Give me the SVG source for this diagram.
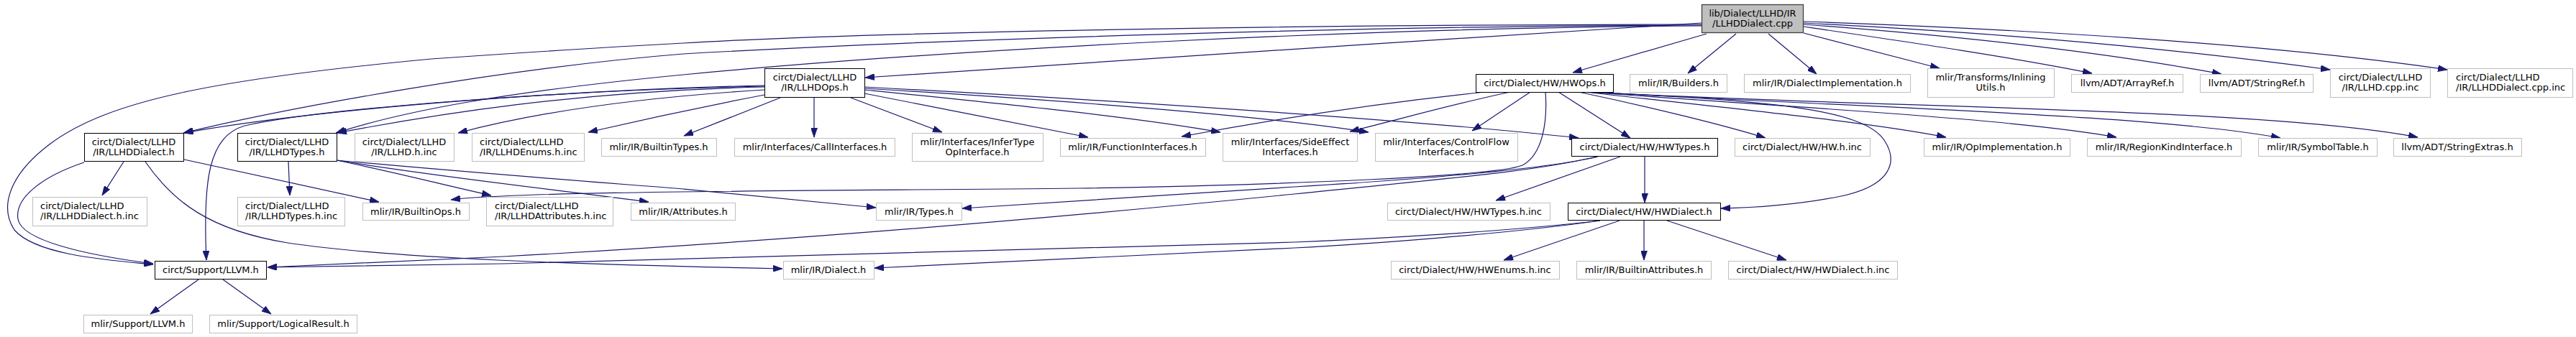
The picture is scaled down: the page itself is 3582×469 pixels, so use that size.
<svg xmlns="http://www.w3.org/2000/svg" width="3582" height="469" viewBox="0 0 3582 469">
<style>
.bg{fill:#ffffff}
.node rect{fill:#ffffff;stroke:#bfbfbf;stroke-width:1}
.node.doc rect{stroke:#000000}
.node.root rect{fill:#bfbfbf;stroke:#404040;stroke-width:1.3}
.node text{font-family:"DejaVu Sans","Liberation Sans",sans-serif;font-size:13px;fill:#000000;text-anchor:middle}
.node text.l{text-anchor:start}
#edges path{fill:none;stroke:#191970;stroke-width:1.2;marker-end:url(#arr)}
</style>
<defs>
<marker id="arr" viewBox="0 0 13 9" refX="13" refY="4.5" markerWidth="13" markerHeight="9" markerUnits="userSpaceOnUse" orient="auto">
<path d="M0,0 L13,4.5 L0,9 z" fill="#191970" stroke="#191970" stroke-width="0.8"/>
</marker>
</defs>
<rect class="bg" x="0" y="0" width="3582" height="469"/>
<g id="edges">
<!-- top node -->
<path d="M2373,47 L2187,101"/>
<path d="M2414,47 L2347,102"/>
<path d="M2459,47 L2526,103"/>
<path d="M2508,46 L2697,95"/>
<path d="M2508,37 C2650,58 2800,80 2909,102"/>
<path d="M2508,34 C2700,48 2900,68 3089,103"/>
<path d="M2508,32 C2700,42 2950,58 3240,97"/>
<path d="M2508,30 C2800,40 3150,60 3403,97"/>
<path d="M2366,32 C2000,56 1500,86 1203,108"/>
<path d="M2366,36 C1900,38 1300,70 950,104 C700,128 560,155 467,185"/>
<path d="M2366,35 C1900,36 1300,55 950,75 C700,95 400,150 255,185"/>
<path d="M2366,34 C1800,34 1200,45 950,60 C800,68 700,75 600,82 C300,110 150,140 70,200 C10,245 0,290 20,320 C50,355 150,362 213,368"/>
<!-- LLHDOps -->
<path d="M1063,119 C800,125 450,150 256,185"/>
<path d="M1063,121 C800,127 600,160 469,185"/>
<path d="M1063,120 C800,125 450,150 340,175 C290,190 282,250 287,362"/>
<path d="M1063,125 C900,135 750,155 637,185"/>
<path d="M1063,132 C980,148 900,165 818,184"/>
<path d="M1085,136 L951,189"/>
<path d="M1132,136 L1132,191"/>
<path d="M1183,136 L1310,184"/>
<path d="M1202,130 C1300,150 1420,172 1513,191"/>
<path d="M1202,125 C1400,145 1580,163 1697,184"/>
<path d="M1202,123 C1450,138 1750,160 1903,184"/>
<path d="M1202,121 C1500,137 1950,165 2195,192"/>
<!-- HWOps -->
<path d="M2065,128 C1900,145 1750,170 1643,190"/>
<path d="M2100,128 C2020,145 1950,165 1877,183"/>
<path d="M2128,128 L2047,182"/>
<path d="M2167,128 L2267,192"/>
<path d="M2195,128 C2300,150 2400,175 2455,192"/>
<path d="M2203,128 C2400,150 2600,170 2706,191"/>
<path d="M2205,128 C2500,150 2800,165 2943,191"/>
<path d="M2207,128 C2600,150 3000,160 3171,192"/>
<path d="M2209,128 C2600,150 3150,150 3362,191"/>
<path d="M2210,128 C2450,140 2590,150 2620,195 C2640,225 2630,258 2560,273 C2500,285 2440,289 2393,290"/>
<path d="M2149,128 C2152,170 2145,215 2117,230 C2080,245 1800,257 1500,262 C1100,266 720,266 627,278"/>
<!-- HWTypes -->
<path d="M2287,218 L2287,282"/>
<path d="M2253,218 L2080,279"/>
<path d="M2222,218 C2150,235 2000,248 1800,260 C1600,272 1450,282 1338,290"/>
<path d="M2220,218 C2130,240 1990,250 1800,270 C1500,300 1100,335 700,357 C560,364 450,369 372,372"/>
<!-- HWDialect -->
<path d="M2225,307 C2100,322 1900,333 1800,337 C1400,350 1000,362 700,367 C550,369 450,371 372,372"/>
<path d="M2225,307 C2100,325 1900,340 1800,345 C1600,355 1400,365 1216,373"/>
<path d="M2252,307 L2091,362"/>
<path d="M2286,307 L2286,362"/>
<path d="M2318,307 L2484,362"/>
<!-- LLHDDialect.h -->
<path d="M172,225 L142,272"/>
<path d="M256,222 L527,281"/>
<path d="M202,225 C240,280 290,320 400,338 C550,360 800,368 1088,374"/>
<path d="M117,226 C60,245 20,275 25,305 C30,335 120,355 213,367"/>
<!-- LLHDTypes.h -->
<path d="M401,225 L403,272"/>
<path d="M468,223 C550,240 620,258 683,272"/>
<path d="M468,223 C600,245 780,265 902,281"/>
<path d="M468,223 C650,240 850,255 950,263 C1050,272 1150,282 1218,289"/>
<!-- circt/Support/LLVM.h -->
<path d="M276,389 L209,437"/>
<path d="M310,389 L377,437"/>
</g>
<g id="n-root" class="node root"><rect x="2366.5" y="6.5" width="141" height="39"/><text><tspan x="2437" y="23">lib/Dialect/LLHD/IR</tspan><tspan x="2437" y="37">/LLHDDialect.cpp</tspan></text></g>
<g id="n-llhddialect-h" class="node doc"><rect x="117.5" y="185.5" width="138" height="39"/><text><tspan x="186" y="202">circt/Dialect/LLHD</tspan><tspan x="186" y="216">/IR/LLHDDialect.h</tspan></text></g>
<g id="n-llhdtypes-h" class="node doc"><rect x="330.5" y="185.5" width="138" height="39"/><text><tspan x="399" y="202">circt/Dialect/LLHD</tspan><tspan x="399" y="216">/IR/LLHDTypes.h</tspan></text></g>
<g id="n-llhd-h-inc" class="node"><rect x="493.5" y="185.5" width="138" height="39"/><text><tspan x="562" y="202">circt/Dialect/LLHD</tspan><tspan x="562" y="216">/IR/LLHD.h.inc</tspan></text></g>
<g id="n-llhddialect-h-inc" class="node"><rect x="45.5" y="274.5" width="159" height="40"/><text class="l"><tspan x="56" y="291">circt/Dialect/LLHD</tspan><tspan x="56" y="305">/IR/LLHDDialect.h.inc</tspan></text></g>
<g id="n-llhdtypes-h-inc" class="node"><rect x="330.5" y="274.5" width="149" height="40"/><text class="l"><tspan x="341" y="291">circt/Dialect/LLHD</tspan><tspan x="341" y="305">/IR/LLHDTypes.h.inc</tspan></text></g>
<g id="n-builtinops" class="node"><rect x="504.5" y="282.5" width="148" height="24"/><text x="578" y="299">mlir/IR/BuiltinOps.h</text></g>
<g id="n-circt-llvm" class="node doc"><rect x="215.5" y="363.5" width="155" height="25"/><text x="293" y="380">circt/Support/LLVM.h</text></g>
<g id="n-mlir-llvm" class="node"><rect x="116.5" y="438.5" width="151" height="25"/><text x="192" y="455">mlir/Support/LLVM.h</text></g>
<g id="n-logicalresult" class="node"><rect x="291.5" y="438.5" width="205" height="25"/><text x="394" y="455">mlir/Support/LogicalResult.h</text></g>
<g id="n-llhdops-h" class="node doc"><rect x="1063.5" y="95.5" width="139" height="40"/><text><tspan x="1133" y="112">circt/Dialect/LLHD</tspan><tspan x="1133" y="126">/IR/LLHDOps.h</tspan></text></g>
<g id="n-llhdenums" class="node"><rect x="656.5" y="185.5" width="156" height="39"/><text class="l"><tspan x="667" y="202">circt/Dialect/LLHD</tspan><tspan x="667" y="216">/IR/LLHDEnums.h.inc</tspan></text></g>
<g id="n-builtintypes" class="node"><rect x="836.5" y="192.5" width="160" height="25"/><text x="916" y="209">mlir/IR/BuiltinTypes.h</text></g>
<g id="n-callinterfaces" class="node"><rect x="1021.5" y="192.5" width="223" height="25"/><text x="1133" y="209">mlir/Interfaces/CallInterfaces.h</text></g>
<g id="n-llhdattributes" class="node"><rect x="676.5" y="274.5" width="176" height="40"/><text class="l"><tspan x="688" y="291">circt/Dialect/LLHD</tspan><tspan x="688" y="305">/IR/LLHDAttributes.h.inc</tspan></text></g>
<g id="n-attributes" class="node"><rect x="877.5" y="282.5" width="145" height="24"/><text x="950" y="299">mlir/IR/Attributes.h</text></g>
<g id="n-dialect" class="node"><rect x="1089.5" y="363.5" width="126" height="25"/><text x="1152" y="380">mlir/IR/Dialect.h</text></g>
<g id="n-infertype" class="node"><rect x="1268.5" y="185.5" width="182" height="39"/><text><tspan x="1359" y="202">mlir/Interfaces/InferType</tspan><tspan x="1359" y="216">OpInterface.h</tspan></text></g>
<g id="n-functioninterfaces" class="node"><rect x="1474.5" y="192.5" width="202" height="25"/><text x="1575" y="209">mlir/IR/FunctionInterfaces.h</text></g>
<g id="n-sideeffect" class="node"><rect x="1700.5" y="185.5" width="187" height="39"/><text><tspan x="1794" y="202">mlir/Interfaces/SideEffect</tspan><tspan x="1794" y="216">Interfaces.h</tspan></text></g>
<g id="n-types" class="node"><rect x="1218.5" y="282.5" width="119" height="24"/><text x="1278" y="299">mlir/IR/Types.h</text></g>
<g id="n-hwops" class="node doc"><rect x="2052.5" y="103.5" width="191" height="25"/><text x="2148" y="120">circt/Dialect/HW/HWOps.h</text></g>
<g id="n-builders" class="node"><rect x="2266.5" y="103.5" width="135" height="25"/><text x="2334" y="120">mlir/IR/Builders.h</text></g>
<g id="n-controlflow" class="node"><rect x="1912.5" y="185.5" width="198" height="39"/><text><tspan x="2011" y="202">mlir/Interfaces/ControlFlow</tspan><tspan x="2011" y="216">Interfaces.h</tspan></text></g>
<g id="n-hwtypes" class="node doc"><rect x="2185.5" y="192.5" width="203" height="25"/><text x="2287" y="209">circt/Dialect/HW/HWTypes.h</text></g>
<g id="n-hwtypes-inc" class="node"><rect x="1929.5" y="282.5" width="226" height="24"/><text x="2042" y="299">circt/Dialect/HW/HWTypes.h.inc</text></g>
<g id="n-hwdialect" class="node doc"><rect x="2180.5" y="282.5" width="212" height="24"/><text x="2286" y="299">circt/Dialect/HW/HWDialect.h</text></g>
<g id="n-hwenums" class="node"><rect x="1934.5" y="363.5" width="234" height="25"/><text x="2051" y="380">circt/Dialect/HW/HWEnums.h.inc</text></g>
<g id="n-builtinattributes" class="node"><rect x="2192.5" y="363.5" width="187" height="25"/><text x="2286" y="380">mlir/IR/BuiltinAttributes.h</text></g>
<g id="n-dialectimpl" class="node"><rect x="2425.5" y="103.5" width="231" height="25"/><text x="2541" y="120">mlir/IR/DialectImplementation.h</text></g>
<g id="n-inlining" class="node"><rect x="2680.5" y="95.5" width="176" height="40"/><text><tspan x="2768" y="112">mlir/Transforms/Inlining</tspan><tspan x="2768" y="126">Utils.h</tspan></text></g>
<g id="n-arrayref" class="node"><rect x="2880.5" y="103.5" width="155" height="25"/><text x="2958" y="120">llvm/ADT/ArrayRef.h</text></g>
<g id="n-hw-h-inc" class="node"><rect x="2412.5" y="192.5" width="188" height="25"/><text x="2506" y="209">circt/Dialect/HW/HW.h.inc</text></g>
<g id="n-opimpl" class="node"><rect x="2675.5" y="192.5" width="203" height="25"/><text x="2777" y="209">mlir/IR/OpImplementation.h</text></g>
<g id="n-regionkind" class="node"><rect x="2902.5" y="192.5" width="214" height="25"/><text x="3009" y="209">mlir/IR/RegionKindInterface.h</text></g>
<g id="n-hwdialect-inc" class="node"><rect x="2403.5" y="363.5" width="235" height="25"/><text x="2521" y="380">circt/Dialect/HW/HWDialect.h.inc</text></g>
<g id="n-stringref" class="node"><rect x="3059.5" y="103.5" width="157" height="25"/><text x="3138" y="120">llvm/ADT/StringRef.h</text></g>
<g id="n-llhd-cpp-inc" class="node"><rect x="3240.5" y="95.5" width="139" height="40"/><text><tspan x="3310" y="112">circt/Dialect/LLHD</tspan><tspan x="3310" y="126">/IR/LLHD.cpp.inc</tspan></text></g>
<g id="n-llhddialect-cpp-inc" class="node"><rect x="3403.5" y="95.5" width="174" height="40"/><text class="l"><tspan x="3415" y="112">circt/Dialect/LLHD</tspan><tspan x="3415" y="126">/IR/LLHDDialect.cpp.inc</tspan></text></g>
<g id="n-symboltable" class="node"><rect x="3140.5" y="192.5" width="165" height="25"/><text x="3223" y="209">mlir/IR/SymbolTable.h</text></g>
<g id="n-stringextras" class="node"><rect x="3328.5" y="192.5" width="178" height="25"/><text x="3417" y="209">llvm/ADT/StringExtras.h</text></g>
</svg>
